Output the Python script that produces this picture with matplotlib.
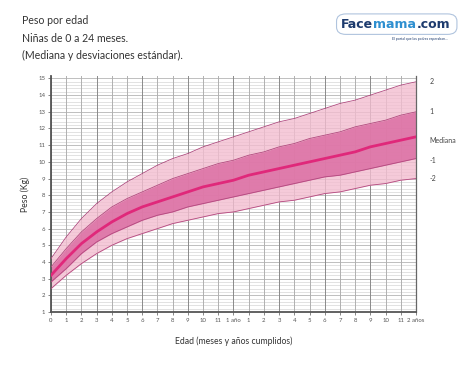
import matplotlib
matplotlib.use("Agg")
import matplotlib.pyplot as plt
import matplotlib.patches as mpatches
import numpy as np

plt.rcParams['font.family'] = ['Lato', 'DejaVu Sans']

# Data: WHO weight-for-age girls 0-24 months (kg)
months = list(range(0, 25))
sd_m2 = [2.4, 3.2, 3.9, 4.5, 5.0, 5.4, 5.7, 6.0, 6.3, 6.5, 6.7, 6.9, 7.0,
         7.2, 7.4, 7.6, 7.7, 7.9, 8.1, 8.2, 8.4, 8.6, 8.7, 8.9, 9.0]
sd_m1 = [2.8, 3.6, 4.5, 5.2, 5.7, 6.1, 6.5, 6.8, 7.0, 7.3, 7.5, 7.7, 7.9,
         8.1, 8.3, 8.5, 8.7, 8.9, 9.1, 9.2, 9.4, 9.6, 9.8, 10.0, 10.2]
median = [3.2, 4.2, 5.1, 5.8, 6.4, 6.9, 7.3, 7.6, 7.9, 8.2, 8.5, 8.7, 8.9,
          9.2, 9.4, 9.6, 9.8, 10.0, 10.2, 10.4, 10.6, 10.9, 11.1, 11.3, 11.5]
sd_p1 = [3.7, 4.8, 5.8, 6.6, 7.3, 7.8, 8.2, 8.6, 9.0, 9.3, 9.6, 9.9, 10.1,
         10.4, 10.6, 10.9, 11.1, 11.4, 11.6, 11.8, 12.1, 12.3, 12.5, 12.8, 13.0]
sd_p2 = [4.2, 5.5, 6.6, 7.5, 8.2, 8.8, 9.3, 9.8, 10.2, 10.5, 10.9, 11.2, 11.5,
         11.8, 12.1, 12.4, 12.6, 12.9, 13.2, 13.5, 13.7, 14.0, 14.3, 14.6, 14.8]
x_labels = ["0", "1", "2", "3", "4", "5", "6", "7", "8", "9", "10", "11", "1 año",
            "1", "2", "3", "4", "5", "6", "7", "8", "9", "10", "11", "2 años"]
y_ticks = list(range(1, 16))
curve_labels = ["2", "1", "Mediana", "-1", "-2"]

fig = plt.figure(figsize=(4.74, 3.66), dpi=100)
ax = fig.add_axes([0.1076, 0.1475, 0.77, 0.645])

# grid
for v in np.arange(1, 15.2001, 0.2):
    major = abs(v - round(v)) < 1e-6
    ax.axhline(v, color="#b4b4b4" if major else "#d2d2d2", lw=0.6 if major else 0.45, zorder=1)
for m in months:
    ax.axvline(m, color="#8a8a8a" if m % 3 == 0 else "#b0b0b0", lw=0.7, zorder=1)

x = np.array(months)
ax.fill_between(x, sd_m2, sd_p2, color="#f3bdd0", alpha=0.8, lw=0, zorder=2)
ax.fill_between(x, sd_m1, sd_p1, color="#dc6ea3", alpha=0.85, lw=0, zorder=2)
for s in [sd_m2, sd_m1, sd_p1, sd_p2]:
    ax.plot(x, s, color="#b2487e", lw=0.6, zorder=4)
ax.plot(x, median, color="#e0287a", lw=2.0, zorder=5)

ax.set_xlim(0, 24)
ax.set_ylim(1, 15.15)
ax.set_xticks(months)
ax.set_xticklabels(x_labels)
ax.set_yticks(y_ticks)
ax.tick_params(axis="both", labelsize=4.3, colors="#555555", length=2, width=0.5, pad=2)
for sp in ["left", "bottom"]:
    ax.spines[sp].set_color("#555555")
    ax.spines[sp].set_linewidth(1.3)
ax.spines["right"].set_color("#666666")
ax.spines["right"].set_linewidth(0.9)
ax.spines["top"].set_visible(False)

ax.set_xlabel("Edad (meses y años cumplidos)", fontsize=6.2, color="#333333", labelpad=10)
ax.set_ylabel("Peso (Kg)", fontsize=6.2, color="#333333", labelpad=6)

ends = [sd_p2[-1], sd_p1[-1], median[-1] - 0.2, sd_m1[-1] - 0.1, sd_m2[-1]]
for lab, yv in zip(curve_labels, ends):
    ax.text(24.9, yv, lab, fontsize=5, color="#444444", va="center", ha="left")

fig.text(0.046, 0.958, "Peso por edad\nNiñas de 0 a 24 meses.\n(Mediana y desviaciones estándar).",
         fontsize=7.6, color="#333333", va="top", ha="left", linespacing=1.7)

# logo
fig.patches.append(mpatches.FancyBboxPatch(
    (0.714, 0.91), 0.246, 0.048, boxstyle="round,pad=0.004,rounding_size=0.02",
    transform=fig.transFigure, fc="white", ec="#b0c4de", lw=0.8, zorder=0))
logo_fs = 9.0
logo_font = "DejaVu Sans"
renderer = fig.canvas.get_renderer()
xpos = 0.72
for part, col in [("Face", "#1d3b6e"), ("mama", "#2e8fd0"), (".com", "#1d3b6e")]:
    t = fig.text(xpos, 0.923, part, fontsize=logo_fs, fontweight="bold", color=col,
                 ha="left", va="baseline", family=logo_font)
    bb = t.get_window_extent(renderer=renderer)
    xpos = fig.transFigure.inverted().transform((bb.x1, bb.y0))[0]
fig.text(0.885, 0.893, "El portal que los padres esperaban...", fontsize=2.5,
         color="#1d3b6e", ha="center", va="center")

fig.savefig("out.png", dpi=100)
